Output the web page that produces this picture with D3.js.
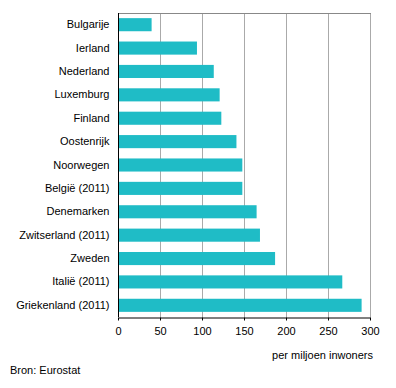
<!DOCTYPE html>
<html>
<head>
<meta charset="utf-8">
<script src="https://cdn.jsdelivr.net/npm/d3@7"></script>
<style>
  body { margin: 0; background: #fff; }
  text { font-family: Arial, "Liberation Sans", sans-serif; }
</style>
</head>
<body>
<div id="chart"></div>
<script>
const landen = ['Bulgarije', 'Ierland', 'Nederland', 'Luxemburg', 'Finland', 'Oostenrijk', 'Noorwegen',
    'België (2011)', 'Denemarken', 'Zwitserland (2011)', 'Zweden', 'Italië (2011)', 'Griekenland (2011)']
const waarden = [40, 94, 114, 121, 123, 141, 148, 148, 165, 169, 187, 267, 290]
const ticks = [0, 50, 100, 150, 200, 250, 300]

const width = 396
const height = 388
const margin = {top: 13, right: 26, bottom: 71, left: 118}

const svg = d3.select('#chart').append('svg')
    .attr('width', width)
    .attr('height', height)

const x = d3.scaleLinear()
    .domain([0, 300])
    .range([margin.left, width - margin.right])

const y = d3.scaleBand()
    .domain(landen)
    .range([margin.top, height - margin.bottom])
    .paddingInner(0.44)
    .paddingOuter(0.22)

// rasterlijnen
svg.append('g')
    .selectAll('line')
    .data(ticks.slice(1))
    .join('line')
    .attr('x1', d => Math.round(x(d)) + 0.5)
    .attr('x2', d => Math.round(x(d)) + 0.5)
    .attr('y1', margin.top)
    .attr('y2', height - margin.bottom)
    .attr('stroke', '#aaa')
    .attr('stroke-width', 1)

// bovenrand
svg.append('line')
    .attr('x1', margin.left)
    .attr('x2', Math.round(x(300)) + 1)
    .attr('y1', margin.top + 0.5)
    .attr('y2', margin.top + 0.5)
    .attr('stroke', '#888')

svg.append('g')
    .selectAll('rect')
    .data(waarden)
    .join('rect')
    .attr('x', x(0))
    .attr('y', (d, i) => y(landen[i]))
    .attr('width', d => x(d) - x(0))
    .attr('height', y.bandwidth())
    .attr('fill', '#1fbcc6')

// x-as
const xAxis = g => g
    .attr('transform', `translate(0, ${height - margin.bottom + 0.5})`)
    .call(d3.axisBottom(x).tickValues(ticks).tickSize(3).tickSizeOuter(0))
    .call(g => g.selectAll('.tick line').attr('stroke', '#000'))
    .call(g => g.select('.domain').attr('stroke', '#000'))
    .call(g => g.selectAll('text').attr('font-size', 11).attr('fill', '#000').attr('dy', '1.05em'))

// y-as
const yAxis = g => g
    .attr('transform', `translate(${margin.left + 0.5}, 0)`)
    .call(d3.axisLeft(y).tickSize(0).tickPadding(9))
    .call(g => g.select('.domain').attr('stroke', '#000').attr('d', `M0,${margin.top}V${height - margin.bottom}`))
    .call(g => g.selectAll('text').attr('font-size', 11).attr('fill', '#000'))

svg.append('g').call(xAxis)
svg.append('g').call(yAxis)

svg.append('text')
    .attr('x', 373)
    .attr('y', 359)
    .attr('text-anchor', 'end')
    .attr('font-size', 11)
    .text('per miljoen inwoners')

svg.append('text')
    .attr('x', 10)
    .attr('y', 374)
    .attr('font-size', 11)
    .text('Bron: Eurostat')
</script>
</body>
</html>
